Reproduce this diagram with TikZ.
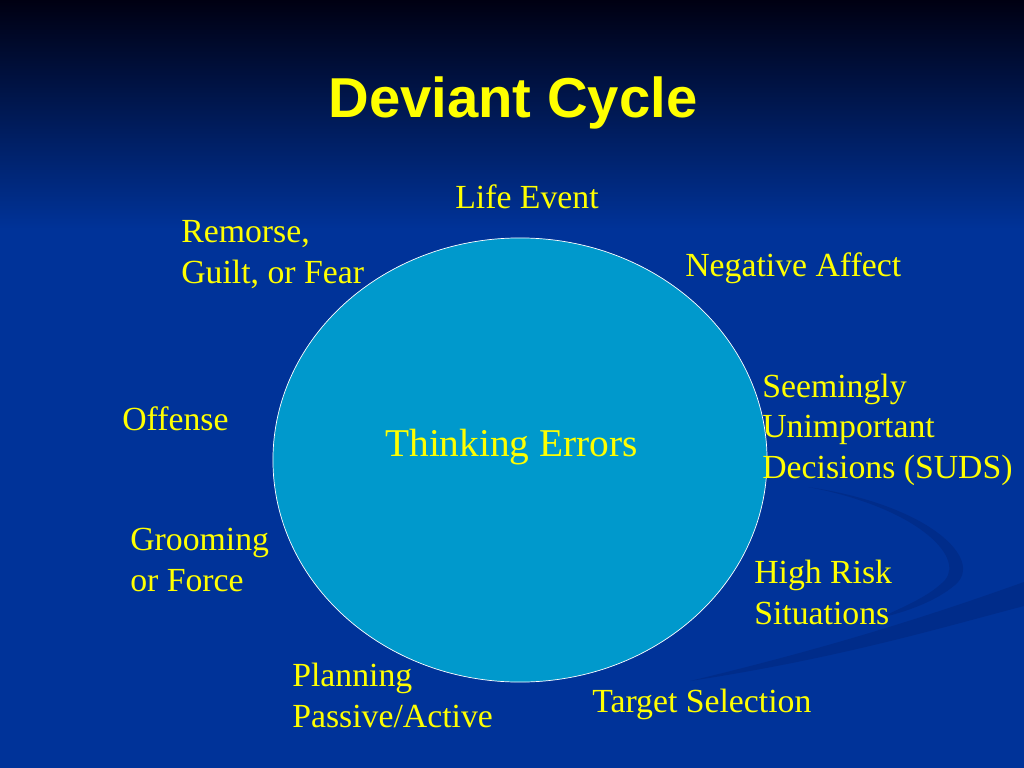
\documentclass[tikz,border=0pt]{standalone}
\usepackage{fontspec}
\setmainfont{Liberation Serif}
\newfontfamily\titlefont{Liberation Sans}
\usepackage{xcolor}
\usetikzlibrary{positioning}
\usetikzlibrary{shapes.geometric}
\definecolor{slidetop}{RGB}{0,0,18}
\definecolor{slidemid}{RGB}{0,22,80}
\definecolor{slideblue}{RGB}{0,51,153}
\definecolor{swooshblue}{RGB}{0,36,120}
\definecolor{bubblecol}{RGB}{0,153,204}
\definecolor{labelcol}{RGB}{255,255,0}
\tikzset{%
  steplabel/.style={anchor=base west,inner sep=0pt,align=left,text=labelcol,font=\fontsize{24}{28.5}\selectfont}
}
\tikzset{%
  bubble/.style={ellipse,fill=bubblecol,draw=white,line width=0.5pt,inner sep=0pt,minimum width=12.35cm,minimum height=11.1cm}
}
\tikzset{%
  swoosh/.style={fill=swooshblue,fill opacity=0.45,draw=none}
}

\begin{document}
\begin{tikzpicture}[x=0.025cm,y=-0.025cm]
    % background
    \useasboundingbox (0,0) rectangle (1024,768);
    \fill[slideblue] (0,0) rectangle (1024,768);
    \shade[top color=slidetop,middle color=slidemid,bottom color=slideblue] (0,0) rectangle (1024,230);
    \fill[swoosh] (690,681) .. controls (840,645) and (940,612) .. (1024,582) -- (1024,606) .. controls (940,628) and (840,658) .. (690,681);
    \fill[swoosh] (808,487) .. controls (930,505) and (985,560) .. (955,585) .. controls (935,602) and (905,612) .. (880,618) .. controls (905,606) and (930,596) .. (945,580) .. controls (965,556) and (915,507) .. (808,487);

    % title
    \node[anchor=base,inner sep=0pt,text=labelcol,font=\titlefont\bfseries\fontsize{40}{48}\selectfont] (title) at (513,118) {Deviant Cycle};

    % centre
    \node[bubble] (core) at (520,460) {};
    \node[steplabel,font=\fontsize{28}{33}\selectfont] (errors) at (385,456) {Thinking Errors};

    % stages round the cycle (base = last line)
    \node[steplabel] (event) at (455,208) {Life Event};
    \node[steplabel] (affect) at (685,276) {Negative Affect};
    \node[steplabel] (suds) at (762,478) {Seemingly\\Unimportant\\Decisions (SUDS)};
    \node[steplabel] (risk) at (754,624) {High Risk\\Situations};
    \node[steplabel] (target) at (592,712) {Target Selection};
    \node[steplabel] (planning) at (292,727) {Planning\\Passive/Active};
    \node[steplabel] (grooming) at (130,591) {Grooming\\or Force};
    \node[steplabel] (offense) at (122,430) {Offense};
    \node[steplabel] (remorse) at (181,283) {Remorse,\\Guilt, or Fear};
\end{tikzpicture}
\end{document}
